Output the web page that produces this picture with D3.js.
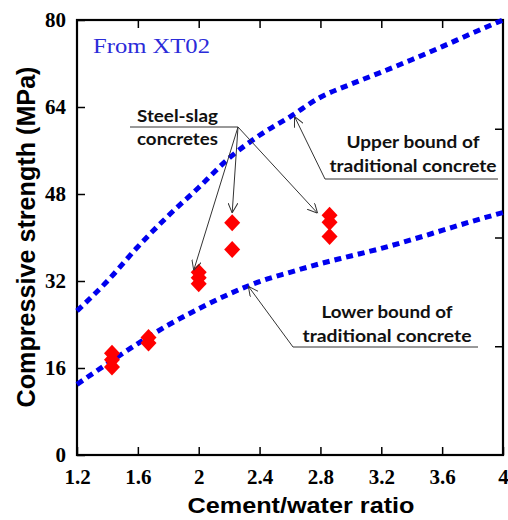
<!DOCTYPE html>
<html>
<head>
<meta charset="utf-8">
<script src="https://cdn.jsdelivr.net/npm/d3@7"></script>
<style>
  body { margin: 0; background: #fff; }
  svg { display: block; }
</style>
</head>
<body>
<svg id="chart" width="508" height="520"></svg>
<script>
// ratio ticks
var xTicks = [1.2, 1.6, 2, 2.4, 2.8, 3.2, 3.6, 4];
var yTicks = [0, 16, 32, 48, 64, 80];

// upper and lower bound of traditional concrete (C/W, MPa)
var upperX = [1.2, 1.4, 1.6, 1.8, 2.0, 2.2, 2.4, 2.6, 2.8, 3.0, 3.2, 3.4, 3.6, 3.8, 4.0];
var upperY = [26.5, 32, 38.3, 44, 49.2, 54.6, 58.8, 62.2, 65.8, 68.2, 70.4, 72.7, 75.1, 77.6, 80];
var lowerX = [1.2, 1.4, 1.6, 1.8, 2.0, 2.2, 2.4, 2.6, 2.8, 3.0, 3.2, 3.4, 3.6, 3.8, 4.0];
var lowerY = [13, 16.8, 20.5, 23.9, 26.9, 29.6, 31.9, 33.6, 35.2, 36.6, 38, 39.6, 41.3, 43, 44.6];

// steel-slag concretes
var slagX = [1.43, 1.43, 1.43, 1.67, 1.67, 2.0, 2.0, 2.0, 2.22, 2.22, 2.86, 2.86, 2.86];
var slagY = [18.7, 17.5, 16.2, 21.6, 20.6, 33.6, 32.6, 31.5, 42.7, 37.8, 44.1, 42.8, 40.2];

(function() {
  var svg = d3.select("#chart");
  var pl = 77, pr = 503, pt = 20, pb = 455;

  var x = d3.scaleLinear().domain([1.2, 4]).range([pl, pr]);
  var y = d3.scaleLinear().domain([0, 80]).range([pb, pt]);
  var y2 = d3.scaleLinear().domain([0, 4]).range([pb, pt]);

  var serif = "'Liberation Serif', 'Times New Roman', serif";
  var sans = "'Liberation Sans', Arial, sans-serif";
  var label = "Lato, 'Open Sans', sans-serif";

  // axes, ticks pointing inward
  svg.append("g").attr("transform", "translate(0," + pb + ")")
    .call(d3.axisBottom(x).tickValues(xTicks).tickSize(-8).tickPadding(14)
      .tickFormat(function(d) { return d3.format(".1f")(d).replace(/\.0$/, ""); }));
  svg.append("g").attr("transform", "translate(0," + pt + ")")
    .call(d3.axisTop(x).tickValues(xTicks.slice(1, -1)).tickSize(-8).tickFormat(""));
  svg.append("g").attr("transform", "translate(" + pl + ",0)")
    .call(d3.axisLeft(y).tickValues(yTicks).tickSize(-8).tickPadding(11));
  svg.append("g").attr("transform", "translate(" + pr + ",0)")
    .call(d3.axisRight(y2).tickValues([1, 2, 3]).tickSize(-8).tickFormat(""));

  svg.selectAll(".domain").remove();
  svg.selectAll(".tick line").attr("stroke", "#000").attr("stroke-width", 1.5);
  svg.selectAll(".tick text")
    .attr("fill", "#000")
    .style("font-family", serif)
    .style("font-size", "21px")
    .style("font-weight", "bold");

  svg.append("rect")
    .attr("x", pl).attr("y", pt)
    .attr("width", pr - pl).attr("height", pb - pt)
    .attr("fill", "none").attr("stroke", "#000").attr("stroke-width", 2.2);

  // bound curves
  var line = d3.line().curve(d3.curveMonotoneX)
    .x(function(d) { return x(d[0]); })
    .y(function(d) { return y(d[1]); });

  [[upperX, upperY], [lowerX, lowerY]].forEach(function(s) {
    svg.append("path")
      .datum(d3.zip(s[0], s[1]))
      .attr("d", line)
      .attr("fill", "none")
      .attr("stroke", "#0000ee")
      .attr("stroke-width", 5)
      .attr("stroke-dasharray", "7,5");
  });

  // diamonds
  svg.selectAll(".slag")
    .data(d3.zip(slagX, slagY))
    .enter().append("path")
    .attr("class", "slag")
    .attr("d", "M0,-8.5L8,0L0,8.5L-8,0Z")
    .attr("transform", function(d) { return "translate(" + x(d[0]) + "," + y(d[1]) + ")"; })
    .attr("fill", "#ff0000");

  // annotations
  svg.append("defs").append("marker")
    .attr("id", "arr")
    .attr("viewBox", "0 0 10 10")
    .attr("refX", 10).attr("refY", 5)
    .attr("markerWidth", 10).attr("markerHeight", 10)
    .attr("markerUnits", "userSpaceOnUse")
    .attr("orient", "auto")
    .append("path")
    .attr("d", "M0,0L10,5L0,10")
    .attr("fill", "none").attr("stroke", "#333").attr("stroke-width", 1);

  function leader(pts) {
    svg.append("polyline")
      .attr("points", pts.map(function(p) { return p.join(","); }).join(" "))
      .attr("fill", "none")
      .attr("stroke", "#333")
      .attr("stroke-width", 1)
      .attr("marker-end", "url(#arr)");
  }

  // steel-slag
  var hub = [238, 127];
  svg.append("line").attr("x1", 130).attr("x2", hub[0]).attr("y1", hub[1]).attr("y2", hub[1])
    .attr("stroke", "#333").attr("stroke-width", 1);
  leader([hub, [x(2.0) - 5, y(33.6) - 2]]);
  leader([hub, [x(2.22), y(42.7) - 10]]);
  leader([hub, [x(2.86) - 12, y(44.1) - 2]]);

  // upper bound
  leader([[498, 179], [325, 179], [x(2.63), y(62.6) + 2]]);
  // lower bound
  leader([[478, 347], [293, 347], [x(2.32) + 1, y(31.2) + 1]]);

  function labelLine(x0, y0, s, w, anchor) {
    svg.append("text")
      .attr("x", x0).attr("y", y0)
      .attr("text-anchor", anchor)
      .attr("textLength", w)
      .attr("lengthAdjust", "spacingAndGlyphs")
      .style("font-family", label)
      .style("font-weight", "bold")
      .style("font-size", "17px")
      .attr("fill", "#111")
      .text(s);
  }
  labelLine(137, 122, "Steel-slag", 81, "start");
  labelLine(137, 145, "concretes", 81, "start");
  labelLine(413, 148, "Upper bound of", 133, "middle");
  labelLine(413, 172, "traditional concrete", 167, "middle");
  labelLine(387, 318, "Lower bound of", 131, "middle");
  labelLine(387, 342, "traditional concrete", 169, "middle");

  svg.append("text")
    .attr("x", 93).attr("y", 53)
    .attr("textLength", 117)
    .attr("lengthAdjust", "spacingAndGlyphs")
    .style("font-family", serif)
    .style("font-size", "21px")
    .attr("fill", "#2b2bd9")
    .text("From XT02");

  // axis titles
  svg.append("text")
    .attr("x", 301).attr("y", 513)
    .attr("text-anchor", "middle")
    .attr("textLength", 227)
    .attr("lengthAdjust", "spacingAndGlyphs")
    .style("font-family", sans)
    .style("font-weight", "bold")
    .style("font-size", "22px")
    .text("Cement/water ratio");

  svg.append("text")
    .attr("transform", "translate(35,237) rotate(-90)")
    .attr("text-anchor", "middle")
    .attr("textLength", 341)
    .attr("lengthAdjust", "spacingAndGlyphs")
    .style("font-family", sans)
    .style("font-weight", "bold")
    .style("font-size", "25px")
    .text("Compressive strength (MPa)");
})();
</script>
</body>
</html>
